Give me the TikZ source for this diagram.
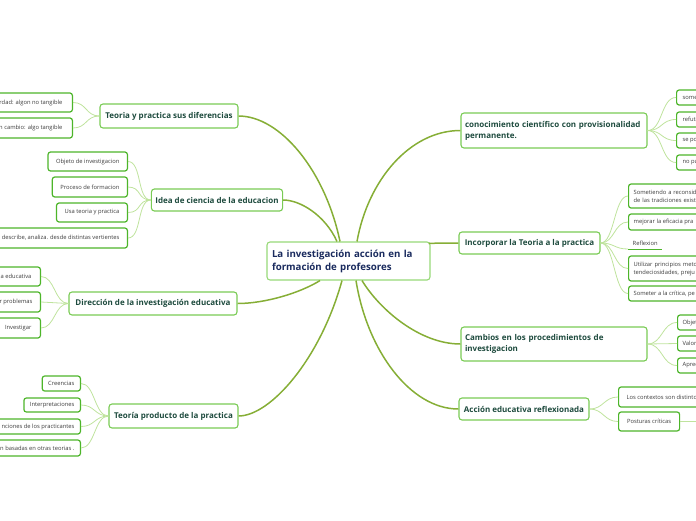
\documentclass[tikz,border=0pt]{standalone}
\usepackage{fontspec}
\setmainfont{Open Sans}
\definecolor{mainline}{HTML}{86AE36}
\definecolor{subline}{HTML}{BFE39D}
\definecolor{subborder}{HTML}{4DB52A}
\definecolor{mainborder}{HTML}{7ACB55}
\definecolor{centerborder}{HTML}{97D978}
\definecolor{maintext}{HTML}{1E4B3E}
\definecolor{centertext}{HTML}{1A2B5E}
\definecolor{subtext}{HTML}{3C3C3C}
\newcommand{\mylcut}[2]{\makebox[#1][r]{#2}}
\newcommand{\myrcut}[1]{\makebox[100pt][l]{#1}}
\begin{document}
\begin{tikzpicture}[x=1pt,y=-1pt,
  centerbox/.style={draw=centerborder,line width=1.1pt,rounded corners=3pt,fill=white,
    text=centertext,font=\fontsize{9.7}{13}\selectfont\bfseries,align=left,
    text width=153pt,inner xsep=5pt,minimum height=38pt},
  mainbox/.style={draw=mainborder,line width=1.1pt,rounded corners=3pt,fill=white,
    text=maintext,font=\fontsize{8}{11}\selectfont\bfseries,inner xsep=4pt},
  subbox/.style={draw=subborder,line width=1.2pt,rounded corners=2.5pt,fill=white,
    text=subtext,font=\fontsize{5.8}{8}\selectfont,inner xsep=8pt,inner ysep=0pt},
  leftcut/.style={subbox,anchor=east,inner xsep=8pt},
  rightcut/.style={subbox,anchor=west,inner xsep=5pt},
  rightcuttwo/.style={subbox,anchor=west,align=left,text width=100pt,inner xsep=5pt},
  mainlink/.style={draw=mainline,line width=1.5pt},
  sublink/.style={draw=subline,line width=0.8pt}]
\useasboundingbox (0,0) rectangle (696,520);
\clip (0,0) rectangle (696,520);

% central node
\node[centerbox] (c) at (348.5,261) {La investigación acción en la\\formación de profesores};

% main branches
\node[mainbox,minimum width=138pt,minimum height=24pt] (t) at (169,116) {Teoria y practica sus diferencias};
\node[mainbox,minimum width=130pt,minimum height=22pt] (i) at (217,200) {Idea de ciencia de la educacion};
\node[mainbox,minimum width=168pt,minimum height=23pt] (d) at (153,303.5) {Dirección de la investigación educativa};
\node[mainbox,minimum width=129pt,minimum height=24pt] (p) at (173.5,416) {Teoría producto de la practica};
\node[mainbox,text width=178pt,align=left,inner xsep=4pt,minimum height=35pt] (k) at (554,130.5) {conocimiento científico con provisionalidad\\permanente.};
\node[mainbox,minimum width=141pt,minimum height=22pt] (r) at (529.5,243) {Incorporar la Teoria a la practica};
\node[mainbox,text width=178pt,align=left,inner xsep=4pt,minimum height=34pt] (m) at (554,344) {Cambios en los procedimientos de\\investigacion};
\node[mainbox,minimum width=130pt,minimum height=22pt] (a) at (524,409) {Acción educativa reflexionada};

% main connectors
\draw[mainlink] ([xshift=-8.5pt]c.north) .. controls (325,170) and (280,116) .. (t.east);
\draw[mainlink] ([xshift=-11.5pt]c.north) .. controls (325,215) and (300,200) .. (i.east);
\draw[mainlink] ([xshift=8.5pt]c.north) .. controls (368,180) and (410,130.5) .. (k.west);
\draw[mainlink] ([xshift=-2pt,yshift=-2pt]c.north east) .. controls (440,243) and (448,243) .. (r.west);
\draw[mainlink] ([xshift=-28.5pt]c.south) .. controls (300,293) and (265,303.5) .. (d.east);
\draw[mainlink] ([xshift=-6.5pt]c.south) .. controls (320,360) and (270,416) .. (p.east);
\draw[mainlink] ([xshift=13.5pt]c.south) .. controls (380,310) and (420,344) .. (m.west);
\draw[mainlink] ([xshift=7.5pt]c.south) .. controls (367,350) and (410,409) .. (a.west);

% left sub nodes: Teoria y practica
\node[leftcut,minimum height=19pt,inner xsep=10pt] (t1) at (73,102.5) {\mylcut{110pt}{rdad: algon no tangible}};
\node[leftcut,minimum height=20pt,inner xsep=10pt] (t2) at (73,128) {\mylcut{110pt}{n cambio: algo tangible}};
% Idea de ciencia
\node[subbox,anchor=east,minimum height=19pt] (i1) at (128,161.5) {Objeto de investigacion};
\node[subbox,anchor=east,minimum height=20pt] (i2) at (128,187) {Proceso de formacion};
\node[subbox,anchor=east,minimum height=19pt] (i3) at (128,212.5) {Usa teoria y practica};
\node[leftcut,minimum height=20pt] (i4) at (128,238) {\mylcut{150pt}{describe, analiza. desde distintas vertientes}};
% Direccion
\node[leftcut,minimum height=19pt,inner xsep=9pt] (d1) at (41,276.5) {\mylcut{80pt}{a educativa}};
\node[leftcut,minimum height=20pt,inner xsep=8pt] (d2) at (41,302) {\mylcut{80pt}{r problemas}};
\node[leftcut,minimum height=20pt,inner xsep=9pt] (d3) at (41,328) {\mylcut{80pt}{Investigar}};
% Teoria producto
\node[subbox,anchor=east,minimum height=15pt,inner xsep=6pt] (p1) at (81,383.5) {Creencias};
\node[subbox,anchor=east,minimum height=14pt,inner xsep=6pt] (p2) at (81,405) {Interpretaciones};
\node[leftcut,inner xsep=6pt,minimum height=15pt] (p3) at (81,426.5) {\mylcut{110pt}{nciones de los practicantes}};
\node[leftcut,inner xsep=6pt,minimum height=16pt] (p4) at (81,448) {\mylcut{110pt}{n basadas en otras teorias .}};

% right sub nodes: conocimiento
\node[rightcut,inner xsep=6pt,minimum height=15pt] (k1) at (676,97.5) {\myrcut{some}};
\node[rightcut,inner xsep=6pt,minimum height=15pt] (k2) at (676,119.5) {\myrcut{refuta}};
\node[rightcut,inner xsep=6pt,minimum height=15pt] (k3) at (676,140.5) {\myrcut{se po}};
\node[rightcut,inner xsep=6pt,minimum height=15pt] (k4) at (676,162.5) {\myrcut{no pu}};
% Incorporar
\node[rightcuttwo,minimum height=24pt] (r1) at (628,196) {Sometiendo a reconsid\\de las tradiciones exist};
\node[rightcut,minimum height=16pt] (r2) at (628,222) {\myrcut{mejorar la eficacia pra}};
\node[anchor=south west,text=subtext,font=\fontsize{5.8}{8}\selectfont,inner xsep=4pt,inner ysep=3pt,minimum width=34pt,align=left] (r3) at (628,249) {Reflexion};
\draw[subborder,line width=1pt] (r3.south west) -- (r3.south east);
\node[rightcuttwo,minimum height=25pt] (r4) at (628,268.5) {Utilizar principios meto\\tendeciosidades, preju};
\node[rightcut,minimum height=15pt] (r5) at (628,293.5) {\myrcut{Someter a la crítica, pe}};
% Cambios
\node[rightcut,minimum height=15pt] (m1) at (677,322.5) {\myrcut{Objet}};
\node[rightcut,minimum height=15pt] (m2) at (677,343.5) {\myrcut{Valor}};
\node[rightcut,minimum height=15pt] (m3) at (677,365.5) {\myrcut{Aprec}};
% Accion
\node[rightcut,inner xsep=8pt,minimum height=20pt] (a1) at (618,397) {\myrcut{Los contextos son distinto}};
\node[subbox,anchor=west,minimum height=19pt,inner xsep=8pt,minimum width=61pt] (a2) at (618,421.5) {Posturas críticas};
\coordinate (a2end) at (700,421.5);

% sub connectors
\foreach \s in {t1,t2} \draw[sublink] (t.west) .. controls +(-14,0) and +(14,0) .. (\s.east);
\foreach \s in {i1,i2,i3,i4} \draw[sublink] (i.west) .. controls +(-14,0) and +(14,0) .. (\s.east);
\foreach \s in {d1,d2,d3} \draw[sublink] (d.west) .. controls +(-14,0) and +(14,0) .. (\s.east);
\foreach \s in {p1,p2,p3,p4} \draw[sublink] (p.west) .. controls +(-14,0) and +(14,0) .. (\s.east);
\foreach \s in {k1,k2,k3,k4} \draw[sublink] (k.east) .. controls +(15,0) and +(-15,0) .. (\s.west);
\foreach \s in {r1,r2,r4,r5} \draw[sublink] (r.east) .. controls +(14,0) and +(-14,0) .. (\s.west);
\draw[sublink] (r.east) .. controls +(14,0) and +(-14,0) .. (r3.south west);
\foreach \s in {m1,m2,m3} \draw[sublink] (m.east) .. controls +(15,0) and +(-15,0) .. (\s.west);
\foreach \s in {a1,a2} \draw[sublink] (a.east) .. controls +(14,0) and +(-14,0) .. (\s.west);
\draw[sublink,line width=1.2pt] (a2.east) -- (a2end);
\end{tikzpicture}
\end{document}
